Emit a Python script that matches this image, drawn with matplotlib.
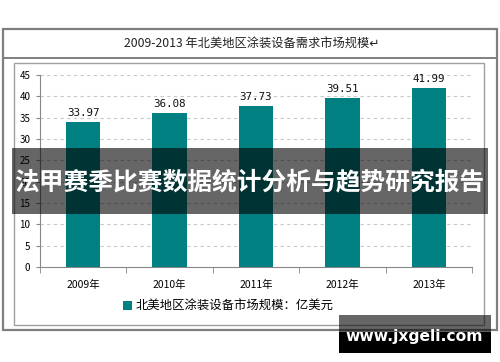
import matplotlib
matplotlib.use("Agg")
import matplotlib.pyplot as plt
from matplotlib.patches import Rectangle
from matplotlib.lines import Line2D

plt.rcParams['font.family'] = ['Noto Sans CJK SC', 'DejaVu Sans']

# dati
years = ["2009年", "2010年", "2011年", "2012年", "2013年"]
values = [33.97, 36.08, 37.73, 39.51, 41.99]
title = "2009-2013 年北美地区涂装设备需求市场规模"
legend_label = "北美地区涂装设备市场规模：亿美元"
banner = "法甲赛季比赛数据统计分析与趋势研究报告"
watermark = "www.jxgeli.com"

W, H = 500, 362
teal = "#008080"


def fx(x):
    return x / W


def fy(y):
    return 1 - y / H


fig = plt.figure(figsize=(5, 3.62), dpi=100)
fig.patch.set_facecolor("white")

# cornici esterne
fig.add_artist(Rectangle((fx(3), fy(330)), fx(494), 301 / H, fill=False,
                         edgecolor="#7f7f7f", linewidth=1.6, transform=fig.transFigure))
fig.add_artist(Line2D([fx(3), fx(497)], [fy(58), fy(58)], color="#7f7f7f",
                      linewidth=1.4, transform=fig.transFigure))
fig.add_artist(Rectangle((fx(14), fy(325)), fx(470), 262 / H, fill=False,
                         edgecolor="#a0a0a0", linewidth=1.0, transform=fig.transFigure))
fig.text(fx(252), fy(44), title + "↵", ha="center", va="center", fontsize=8.8, color="#222222")

# assi
ax = fig.add_axes([fx(40), fy(267), fx(432), 192 / H])
x = range(len(years))
bars = ax.bar(x, values, width=0.4, color=teal, zorder=3, label=legend_label)
for xi, v in zip(x, values):
    ax.text(xi, v + 1.0, f"{v:.2f}", ha="center", va="bottom", fontsize=7.8,
            family="DejaVu Sans Mono", color="#111111")

ax.set_xlim(-0.5, len(years) - 0.5)
ax.set_ylim(0, 45)
ax.set_yticks(range(0, 50, 5))
ax.set_xticks(list(x))
ax.set_xticklabels(years, fontsize=7.5)
ax.set_xticks([i - 0.5 for i in range(len(years) + 1)], minor=True)
ax.tick_params(axis="x", which="major", length=0, pad=9)
ax.tick_params(axis="x", which="minor", length=4, color="#888888", direction="out")
ax.tick_params(axis="y", length=3, color="#888888", labelsize=7, pad=4)
for yv in range(5, 50, 5):
    ax.axhline(yv, color="#c8c8c8", linestyle=(0, (3, 3)), linewidth=0.8, zorder=1)
for s in ["top", "right"]:
    ax.spines[s].set_visible(False)
for s in ["left", "bottom"]:
    ax.spines[s].set_color("#888888")

ax.legend(handles=[bars], loc="center left", bbox_to_anchor=(fx(117), fy(306)),
          bbox_transform=fig.transFigure, frameon=False, fontsize=8.9,
          handlelength=0.7, handleheight=0.7, handletextpad=0.3, borderpad=0)

# banner sovrapposto
fig.add_artist(Rectangle((fx(12), fy(214)), fx(476), 66 / H, facecolor="black",
                         alpha=0.6, edgecolor="none", transform=fig.transFigure, zorder=10))
fig.text(fx(249), fy(182), banner, ha="center", va="center", fontsize=17.8,
         fontweight="bold", color="white", zorder=11)

# watermark
fig.add_artist(Rectangle((fx(339), fy(332)), fx(152), 17 / H, facecolor="black",
                         alpha=0.6, edgecolor="none", transform=fig.transFigure, zorder=10))
fig.add_artist(Rectangle((fx(339), fy(353)), fx(152), 21 / H, facecolor="black",
                         edgecolor="none", transform=fig.transFigure, zorder=10))
fig.text(fx(414), fy(337), watermark, ha="center", va="center", fontsize=11.2,
         fontweight="bold", color="white", family="DejaVu Sans", zorder=11)

fig.savefig("out.png", dpi=100)
